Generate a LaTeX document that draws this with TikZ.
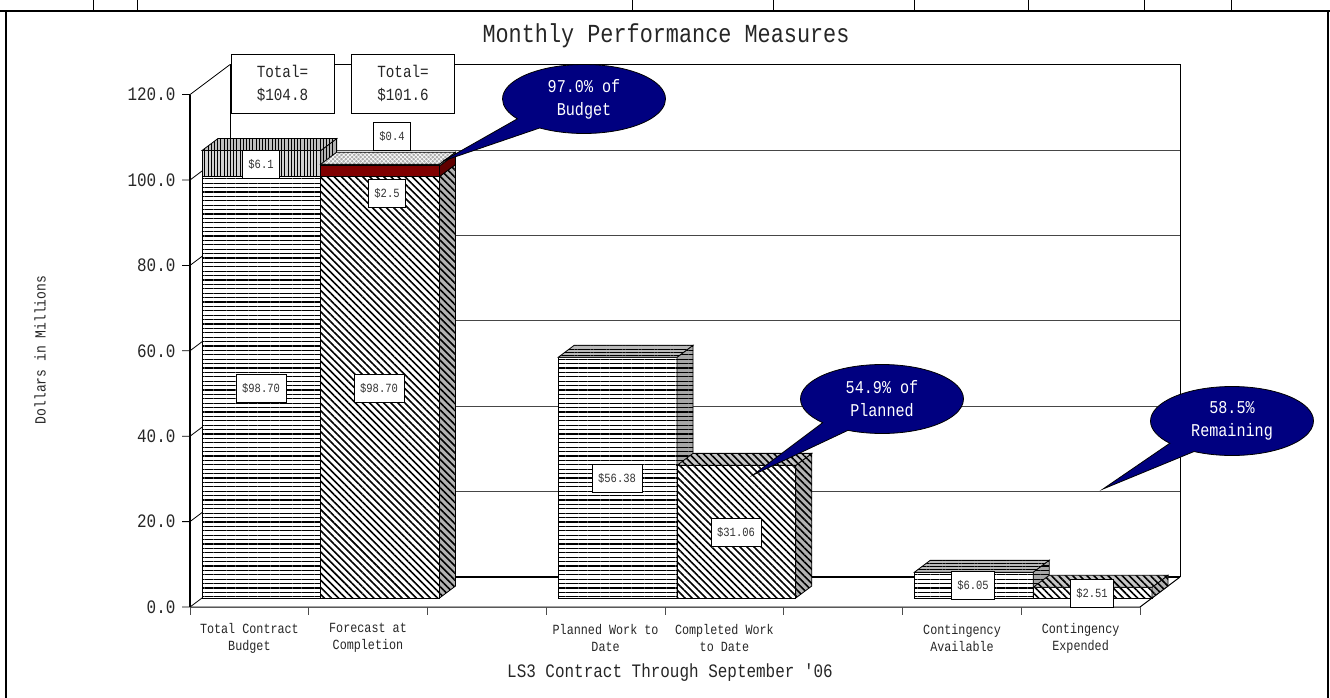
\documentclass[tikz,border=0pt]{standalone}
\usepackage{fontspec}
\newfontfamily\cf[FakeStretch=0.84]{Liberation Mono}
\usetikzlibrary{patterns.meta,shapes.callouts}
\definecolor{navyc}{RGB}{0,0,128}
\definecolor{maroonc}{RGB}{128,0,0}
\definecolor{maroond}{RGB}{95,0,0}
\newcommand\fs[2]{\fontsize{#1}{#2}\selectfont}
\newcommand\seg[5]{%
  \pgfmathsetmacro\bxa{202+118.75*#1}%
  \pgfmathsetmacro\bxb{\bxa+118.75}%
  \pgfmathsetmacro\bya{598-4.27*#2}%
  \pgfmathsetmacro\byb{598-4.27*#3}%
  \draw[#4] (\bxa,\bya) rectangle (\bxb,\byb);
  \draw[#5] (\bxb,\bya) -- (\bxb+16,\bya-12) -- (\bxb+16,\byb-12) -- (\bxb,\byb) -- cycle;
}
\newcommand\segtop[3]{%
  \pgfmathsetmacro\bxa{202+118.75*#1}%
  \pgfmathsetmacro\bxb{\bxa+118.75}%
  \pgfmathsetmacro\byt{598-4.27*#2}%
  \draw[#3] (\bxa,\byt) -- (\bxa+16,\byt-12) -- (\bxb+16,\byt-12) -- (\bxb,\byt) -- cycle;
}
\begin{document}
\begin{tikzpicture}[x=1pt,y=-1pt,
  face/.style={draw=black,line width=0.8pt,pattern color=black},
  hfront/.style={face,preaction={fill=white},pattern={Lines[angle=0,distance=4.4pt,line width=1.3pt]}},
  hside/.style={face,preaction={fill=gray!70},pattern={Lines[angle=0,distance=4.4pt,line width=1.3pt]}},
  htop/.style={face,preaction={fill=gray!55},pattern={Lines[angle=0,distance=3.2pt,line width=1pt]}},
  vfront/.style={face,preaction={fill=gray!35},pattern={Lines[angle=90,distance=3.2pt,line width=1pt]}},
  vside/.style={face,preaction={fill=gray!60},pattern={Lines[angle=90,distance=3.2pt,line width=1pt]}},
  vtop/.style={face,preaction={fill=gray!50},pattern={Lines[angle=90,distance=3.2pt,line width=1pt]}},
  dfront/.style={face,preaction={fill=white},pattern={Lines[angle=-45,distance=5pt,line width=1.6pt]}},
  dside/.style={face,preaction={fill=gray!60},pattern={Lines[angle=-45,distance=5pt,line width=1.6pt]}},
  dtop/.style={face,preaction={fill=gray!45},pattern={Lines[angle=-45,distance=5pt,line width=1.6pt]}},
  zz/.style={face,preaction={fill=gray!65},pattern={Hatch[angle=45,distance=3pt,line width=0.6pt]},pattern color=white},
  redf/.style={draw=black,line width=0.8pt,fill=maroonc},
  reds/.style={draw=black,line width=0.8pt,fill=maroond},
  val/.style={draw=black,fill=white,line width=0.8pt,font=\cf\fs{12.5}{14},text=black!80,minimum height=28,inner xsep=6pt,inner ysep=2pt},
  tot/.style={draw=black,fill=white,line width=0.8pt,font=\cf\fs{17}{23},text=black!85,minimum width=103,minimum height=59,align=center,inner sep=0pt},
  call/.style={ellipse callout,draw=black,line width=0.8pt,fill=navyc,text=white,minimum width=163,minimum height=69,inner sep=0pt,align=center,callout pointer arc=22,font=\cf\fs{18}{23}},
  cat/.style={font=\cf\fs{14}{17},align=center,text=black!85},
  tick/.style={font=\cf\fs{19}{19},anchor=east,text=black!85},
  gridl/.style={gray!55!black,line width=0.9pt}
  ]
\useasboundingbox (0,0) rectangle (1330,698);
% frame
\draw[line width=1.6pt] (0,11) -- (1330,11);
\draw[line width=1.4pt] (6,11) -- (6,698);
\draw[line width=1.4pt] (1328,11) -- (1328,698);
\foreach \hx in {93,137,632,773,914,1028,1144,1231}
  \draw[line width=0.8pt] (\hx,0) -- (\hx,11);
% title
\node[font=\cf\fs{26}{28},text=black!85] (title) at (666,36) {Monthly Performance Measures};
% wall and grid
\foreach \v in {20,40,...,100}
  \draw[gridl] (230,577-4.27*\v) -- (1180,577-4.27*\v);
\draw[line width=0.9pt] (230,64.6) -- (1180,64.6) -- (1180,577);
\draw[line width=0.9pt] (230,64.6) -- (230,577);
\draw[line width=2pt] (230,577) -- (1180,577);
\foreach \v/\lab in {0/0.0,20/20.0,40/40.0,60/60.0,80/80.0,100/100.0,120/120.0}{
  \draw[line width=0.8pt] (182,607-4.27*\v) -- (190,607-4.27*\v) -- (230,577-4.27*\v);
  \node[tick] (y\v) at (179,607-4.27*\v) {\lab};
}
\draw[line width=1.4pt] (190,94.6) -- (190,607);
\draw[line width=1pt] (190,607) -- (1140,607) -- (1180,577);
\foreach \k in {0,...,8}
  \draw[gray!60!black,line width=0.9pt] (190+118.75*\k,607) -- (190+118.75*\k,615);
% bars
\seg{0}{0}{98.7}{hfront}{hside}
\seg{0}{98.7}{104.8}{vfront}{vside}
\segtop{0}{104.8}{vtop}
\seg{1}{0}{98.7}{dfront}{dside}
\seg{1}{98.7}{101.2}{redf}{reds}
\seg{1}{101.2}{101.6}{zz}{zz}
\segtop{1}{101.6}{zz}
\seg{3}{0}{56.38}{hfront}{hside}
\segtop{3}{56.38}{htop}
\seg{4}{0}{31.06}{dfront}{dside}
\segtop{4}{31.06}{dtop}
\seg{6}{0}{6.05}{hfront}{hside}
\segtop{6}{6.05}{htop}
\seg{7}{0}{2.51}{dfront}{dside}
\segtop{7}{2.51}{dtop}
% value labels
\node[val] (v1) at (261,388) {\$98.70};
\node[val] (v2) at (379,388) {\$98.70};
\node[val] (v3) at (261,164) {\$6.1};
\node[val] (v4) at (387,193) {\$2.5};
\node[val] (v5) at (392,136) {\$0.4};
\node[val] (v6) at (617,478) {\$56.38};
\node[val] (v7) at (736,532) {\$31.06};
\node[val] (v8) at (973,585) {\$6.05};
\node[val] (v9) at (1092,593) {\$2.51};
% totals
\node[tot] (t1) at (282.5,83.5) {Total=\\\$104.8};
\node[tot] (t2) at (403,83.5) {Total=\\\$101.6};
% callouts
\coordinate (p1) at (443,161);
\coordinate (p2) at (753,475);
\coordinate (p3) at (1103,489);
\node[call,callout absolute pointer={(p1)}] (c1) at (584,99) {97.0\% of\\Budget};
\node[call,callout absolute pointer={(p2)}] (c2) at (882,399) {54.9\% of\\Planned};
\node[call,callout absolute pointer={(p3)}] (c3) at (1232,421) {58.5\%\\Remaining};
% category labels
\node[cat] (k0) at (249.4,638) {Total Contract\\Budget};
\node[cat] (k1) at (368,638) {Forecast at\\Completion};
\node[cat] (k3) at (605.6,638) {Planned Work to\\Date};
\node[cat] (k4) at (724.4,638) {Completed Work\\to Date};
\node[cat] (k6) at (962,638) {Contingency\\Available};
\node[cat] (k7) at (1080.6,638) {Contingency\\Expended};
% axis titles
\node[font=\cf\fs{19}{20},text=black!85] (xt) at (670,673) {LS3 Contract Through September '06};
\node[font=\cf\fs{15.5}{17},text=black!85,rotate=90] (yt) at (40,350) {Dollars in Millions};
\end{tikzpicture}
\end{document}
